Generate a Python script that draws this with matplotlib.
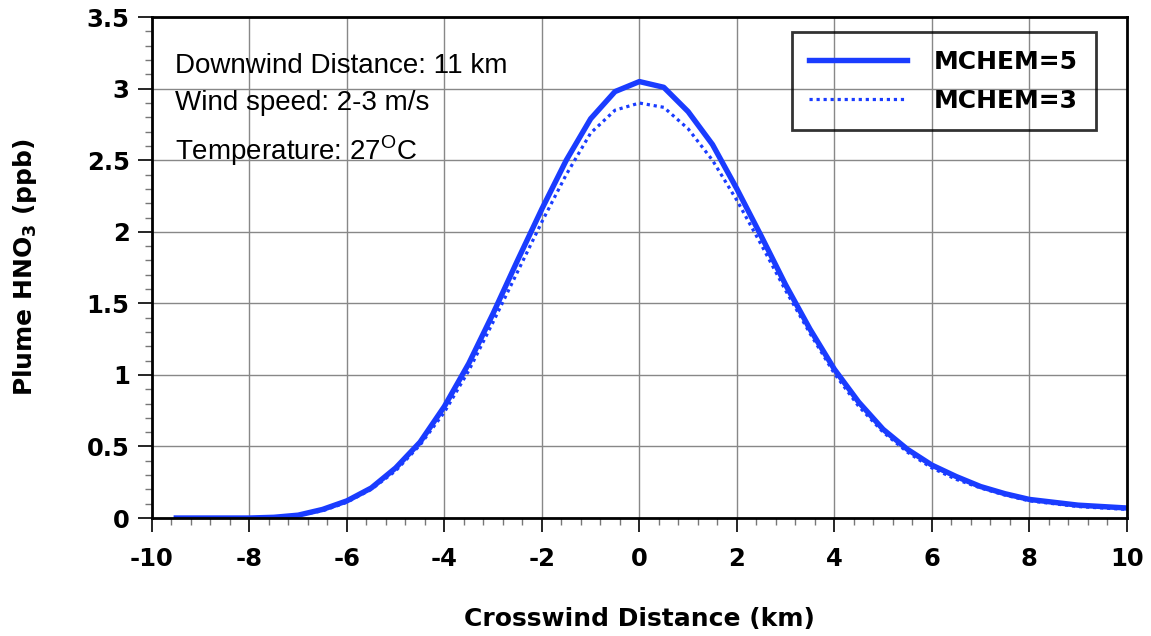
import numpy as np
from matplotlib import pyplot as plt
from matplotlib.ticker import MultipleLocator

plt.rcParams['font.family'] = ['Liberation Sans', 'DejaVu Sans']
plt.rcParams['mathtext.fontset'] = 'custom'
plt.rcParams['mathtext.rm'] = 'Liberation Sans'
plt.rcParams['mathtext.bf'] = 'DejaVu Sans:bold'

# crosswind distance (km)
dist = [-9.5, -9, -8.5, -8, -7.5, -7, -6.5, -6, -5.5, -5, -4.5, -4, -3.5, -3,
        -2.5, -2, -1.5, -1, -0.5, 0, 0.5, 1, 1.5, 2, 2.5, 3, 3.5, 4, 4.5, 5,
        5.5, 6, 6.5, 7, 7.5, 8, 8.5, 9, 9.5, 10]

# plume HNO3 (ppb)
mchem5 = [0, 0, 0, 0, 0.005, 0.02, 0.06, 0.12, 0.21, 0.35, 0.53, 0.78, 1.08, 1.43,
          1.80, 2.16, 2.50, 2.79, 2.98, 3.05, 3.01, 2.84, 2.61, 2.30, 1.97, 1.63,
          1.32, 1.04, 0.81, 0.62, 0.48, 0.37, 0.29, 0.22, 0.17, 0.13, 0.11, 0.09,
          0.08, 0.07]
mchem3 = [0, 0, 0, 0, 0.005, 0.02, 0.05, 0.11, 0.20, 0.33, 0.51, 0.74, 1.03, 1.37,
          1.72, 2.07, 2.40, 2.69, 2.85, 2.90, 2.87, 2.72, 2.50, 2.22, 1.91, 1.59,
          1.29, 1.01, 0.78, 0.60, 0.46, 0.35, 0.27, 0.21, 0.16, 0.12, 0.10, 0.08,
          0.07, 0.06]

xticks = np.arange(-10, 11, 2)
yticks = np.arange(0, 3.51, 0.5)

BLUE = '#1a3cff'
BOLD = {'family': 'DejaVu Sans', 'weight': 'bold'}

fig = plt.figure(figsize=(11.51, 6.36), dpi=100)
ax = fig.add_axes([0.132, 0.1855, 0.847, 0.7875])

ax.plot(dist, mchem5, color=BLUE, lw=3.9, label='MCHEM=5')
ax.plot(dist, mchem3, color=BLUE, lw=2.3, ls=(0, (1, 1.2)), label='MCHEM=3')

ax.set_xlim(-10, 10)
ax.set_ylim(0, 3.5)
ax.set_xticks(xticks)
ax.set_xticklabels([f'{t:g}' for t in xticks], fontdict=BOLD, fontsize=17.5)
ax.set_yticks(yticks)
ax.set_yticklabels([f'{t:g}' for t in yticks], fontdict=BOLD, fontsize=17.5)
ax.xaxis.set_minor_locator(MultipleLocator(0.4))
ax.yaxis.set_minor_locator(MultipleLocator(0.1))

ax.tick_params(which='major', direction='out', length=10, width=1.2)
ax.tick_params(axis='x', which='major', pad=11)
ax.tick_params(axis='y', which='major', pad=6)
ax.tick_params(which='minor', direction='out', length=5, width=1, color='#777777')

ax.grid(True, which='major', color='#888888', lw=1)
for s in ax.spines.values():
    s.set_linewidth(2)
    s.set_color('black')

ax.set_xlabel('Crosswind Distance (km)', fontdict=BOLD, fontsize=18, labelpad=26)
ax.set_ylabel(r'Plume HNO$_\mathbf{3}$ (ppb)', fontdict=BOLD, fontsize=18, labelpad=34)

ax.text(0.024, 0.888, 'Downwind Distance: 11 km', transform=ax.transAxes, fontsize=20)
ax.text(0.024, 0.814, 'Wind speed: 2-3 m/s', transform=ax.transAxes, fontsize=20)
ax.text(0.024, 0.715, r'Temperature: 27$^{\mathrm{O}}$C', transform=ax.transAxes, fontsize=20)

leg = ax.legend(loc='upper right', bbox_to_anchor=(0.968, 0.97),
                prop={'family': 'DejaVu Sans', 'weight': 'bold', 'size': 18},
                frameon=True, fancybox=False, facecolor='none', edgecolor='black',
                handlelength=3.9, handletextpad=1.1, borderpad=0.7, labelspacing=0.6,
                borderaxespad=0)
leg.get_frame().set_linewidth(2)

fig.savefig('out.png', dpi=100)
